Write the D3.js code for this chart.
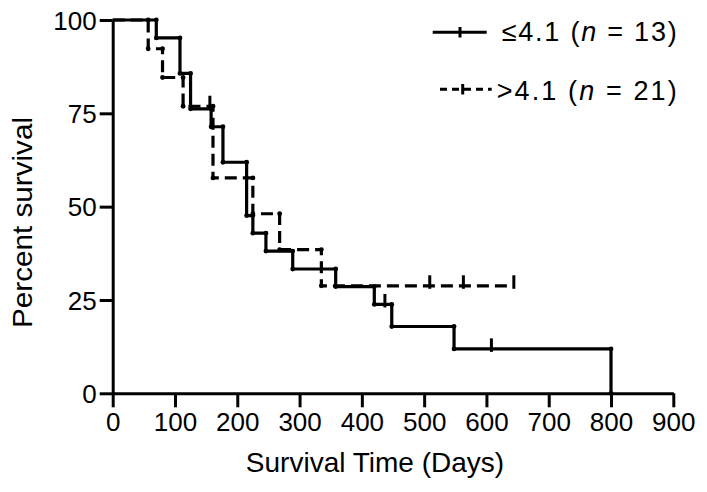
<!DOCTYPE html>
<html><head><meta charset="utf-8">
<script src="https://cdn.jsdelivr.net/npm/d3@7"></script>
<style>
body{margin:0;background:#fff;}
svg{display:block;font-family:"Liberation Sans",Arial,Helvetica,sans-serif;}
</style></head>
<body><svg id="c" width="707" height="492"></svg>
<script>
// ---- data ----
const xTicks = [0,100,200,300,400,500,600,700,800,900];
const yTicks = [0,25,50,75,100];

// group ≤4.1 (solid line)
const solidTimes = [0, 70, 108, 125, 158, 177, 215, 225, 246, 289, 358, 420, 448, 548, 800];
const solidSurv  = [100, 95.2, 85.7, 76.2, 71.4, 61.9, 47.6, 42.9, 38.1, 33.3, 28.6, 23.8, 17.9, 11.9, 0];
const solidCensor = [437, 608];

// group >4.1 (dashed line)
const dashTimes = [0, 57, 80, 113, 161, 225, 268, 335, 644];
const dashSurv  = [100, 92.3, 84.6, 76.9, 57.7, 48.1, 38.5, 28.8, 28.8];
const dashCensor = [156, 509, 563, 644];

const legendLabels = [["≤4.1 (", "n", " = 13)"], [">4.1 (", "n", " = 21)"]];

// ---- drawing ----
const svg = d3.select("#c");
const x = d3.scaleLinear().domain([0,900]).range([112.7,673.3]);
const y = d3.scaleLinear().domain([0,100]).range([393.3,20]);

// axes
const xAxis = svg.append("g").attr("transform",`translate(0,${y(0)})`)
  .call(d3.axisBottom(x).tickValues(xTicks).tickSize(14).tickPadding(5).tickSizeOuter(0));
const yAxis = svg.append("g").attr("transform",`translate(${x(0)},0)`)
  .call(d3.axisLeft(y).tickValues(yTicks).tickSize(13).tickPadding(4).tickSizeOuter(0));
[xAxis,yAxis].forEach(a=>{
  a.select(".domain").attr("stroke","#000").attr("stroke-width",3);
  a.selectAll(".tick line").attr("stroke","#000").attr("stroke-width",3);
  a.selectAll(".tick text").attr("fill","#000").style("font-size","26px")
   .style("font-family",'"Liberation Sans",Arial,Helvetica,sans-serif');
});
xAxis.selectAll(".tick text").attr("dy","0.71em").attr("y",19);
yAxis.selectAll(".tick text").attr("dy","0.35em").attr("x",-16);

// axis titles
svg.append("text").attr("x",375).attr("y",472).attr("text-anchor","middle")
  .style("font-size","28px").text("Survival Time (Days)");
svg.append("text").attr("transform","translate(31.5,222.5) rotate(-90)")
  .attr("text-anchor","middle").style("font-size","28px")
  .attr("textLength",211).attr("lengthAdjust","spacingAndGlyphs").text("Percent survival");

// curves
const line = d3.line().x(d=>x(d[0])).y(d=>y(d[1])).curve(d3.curveStepAfter);
function survAt(times, surv, t){
  const i = d3.bisectRight(times, t) - 1;
  return surv[Math.max(0,i)];
}
function drawCurve(times, surv, censor, dash){
  const pts = times.map((t,i)=>[t,surv[i]]);
  const g = svg.append("g");
  g.append("path").attr("d",line(pts)).attr("fill","none").attr("stroke","#000")
    .attr("stroke-width",3.2).attr("stroke-dasharray",dash||null);
  // corner dots at each event
  const corners = [];
  for(let i=1;i<times.length;i++){
    if(surv[i]!==surv[i-1]){ corners.push([times[i],surv[i-1]]); corners.push([times[i],surv[i]]); }
  }
  g.selectAll("circle").data(corners).join("circle")
    .attr("cx",d=>x(d[0])).attr("cy",d=>y(d[1])).attr("r",2.4).attr("fill","#000");
  // censor ticks
  g.selectAll("line.cen").data(censor).join("line").attr("class","cen")
    .attr("x1",d=>x(d)).attr("x2",d=>x(d))
    .attr("y1",d=>y(survAt(times,surv,d))-10.5).attr("y2",d=>y(survAt(times,surv,d))+3)
    .attr("stroke","#000").attr("stroke-width",3);
}
drawCurve(solidTimes, solidSurv, solidCensor, null);
drawCurve(dashTimes, dashSurv, dashCensor, "12,6");

// legend
const lg = svg.append("g");
lg.append("line").attr("x1",432.7).attr("x2",486.7).attr("y1",32.3).attr("y2",32.3)
  .attr("stroke","#000").attr("stroke-width",3);
lg.append("line").attr("x1",460).attr("x2",460).attr("y1",27).attr("y2",37.5)
  .attr("stroke","#000").attr("stroke-width",3);
lg.append("line").attr("x1",440).attr("x2",491.7).attr("y1",89.3).attr("y2",89.3)
  .attr("stroke","#000").attr("stroke-width",3).attr("stroke-dasharray","7,5");
lg.append("line").attr("x1",462.7).attr("x2",462.7).attr("y1",84).attr("y2",94.5)
  .attr("stroke","#000").attr("stroke-width",3);

const legPos = [[501.7,40.7],[496.7,100]];
legendLabels.forEach((parts,i)=>{
  const t = svg.append("text").attr("x",legPos[i][0]).attr("y",legPos[i][1])
    .style("font-size","27px").attr("textLength",676.7-legPos[i][0]).attr("lengthAdjust","spacing");
  t.append("tspan").text(parts[0]);
  t.append("tspan").style("font-style","italic").text(parts[1]);
  t.append("tspan").text(parts[2]);
});
</script></body></html>
